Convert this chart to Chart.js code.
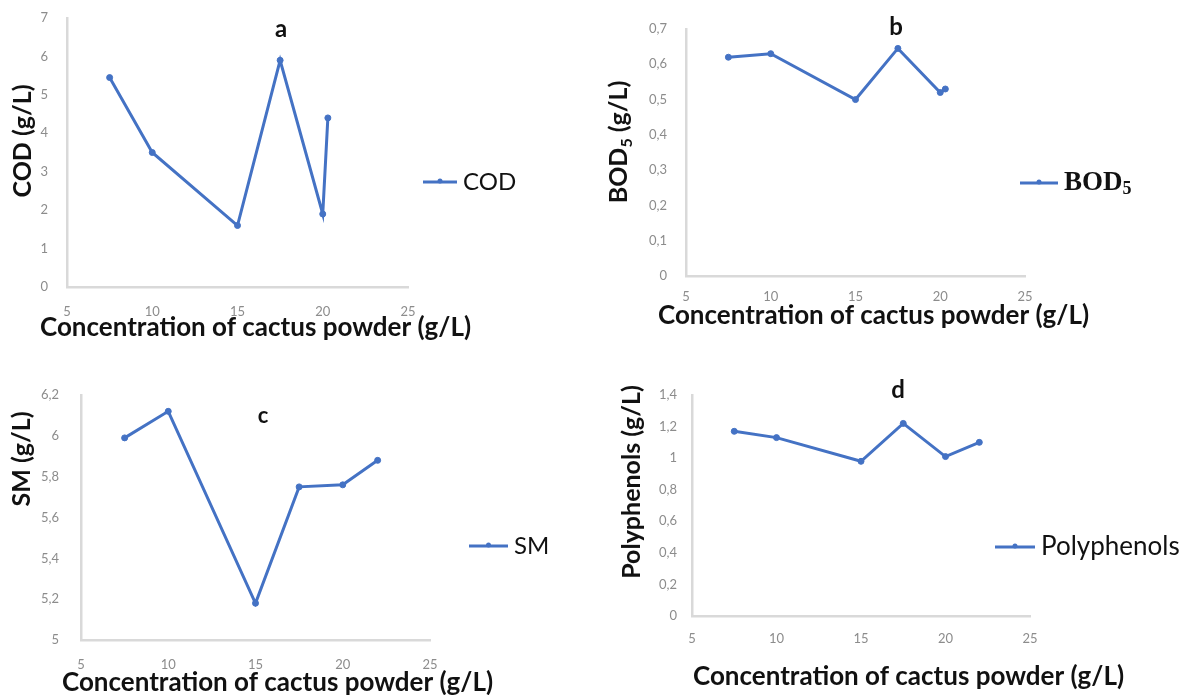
<!DOCTYPE html>
<html>
<head>
<meta charset="utf-8">
<script src="https://cdn.jsdelivr.net/npm/chart.js@4.4.0/dist/chart.umd.min.js"></script>
<style>
    body { margin: 0; background: #fff; width: 1190px; height: 695px; overflow: hidden; position: relative; }
    canvas { position: absolute; left: 0; top: 0; }
</style>
</head>
<body>
<canvas id="chartA" width="1190" height="695"></canvas>
<canvas id="chartB" width="1190" height="695"></canvas>
<canvas id="chartC" width="1190" height="695"></canvas>
<canvas id="chartD" width="1190" height="695"></canvas>
<script>
// Data
const concCOD = [7.5, 10, 15, 17.5, 20, 20.3];
const valCOD = [5.45, 3.5, 1.6, 5.9, 1.9, 4.4];

const concBOD = [7.5, 10, 15, 17.5, 20, 20.3];
const valBOD = [0.62, 0.63, 0.50, 0.645, 0.52, 0.53];

const concSM = [7.5, 10, 15, 17.5, 20, 22];
const valSM = [5.99, 6.12, 5.18, 5.75, 5.76, 5.88];

const concPoly = [7.5, 10, 15, 17.5, 20, 22];
const valPoly = [1.17, 1.13, 0.98, 1.22, 1.01, 1.10];

const xTickValues = [5, 10, 15, 20, 25];
const xTitle = 'Concentration of cactus powder (g/L)';

const BLUE = '#4472C4';
const AXIS_GREY = '#d9d9d9';
const TICK_GREY = '#8c8c8c';
const FONT = 'Lato, "Open Sans", sans-serif';

// comma decimals like the original
function commaLabel(v) {
    const r = Math.round(v * 10) / 10;
    return Number.isInteger(r) ? String(r) : r.toFixed(1).replace('.', ',');
}

// Draws axis titles, panel letter and the little legend
const annotations = {
    id: 'annotations',
    afterDraw(chart) {
        const a = chart.options.plugins.annotations;
        const ctx = chart.ctx;
        ctx.save();
        ctx.fillStyle = '#111';
        ctx.textBaseline = 'middle';

        // x title
        ctx.font = `bold ${a.xTitleSize}px ${FONT}`;
        ctx.textAlign = 'left';
        ctx.fillText(xTitle, a.xTitle[0], a.xTitle[1]);

        // y title (rotated)
        ctx.save();
        ctx.translate(a.yTitle[0], a.yTitle[1]);
        ctx.rotate(-Math.PI / 2);
        ctx.font = `bold ${a.yTitleSize}px ${FONT}`;
        ctx.textAlign = 'center';
        if (a.ySub) {
            // BOD with subscript 5
            const main = 'BOD', sub = '5', rest = ' (g/L)';
            const wMain = ctx.measureText(main).width;
            const wRest = ctx.measureText(rest).width;
            ctx.font = `bold ${Math.round(a.yTitleSize * 0.62)}px ${FONT}`;
            const wSub = ctx.measureText(sub).width;
            let x = -(wMain + wSub + wRest) / 2;
            ctx.textAlign = 'left';
            ctx.font = `bold ${a.yTitleSize}px ${FONT}`;
            ctx.fillText(main, x, 0);
            x += wMain;
            ctx.font = `bold ${Math.round(a.yTitleSize * 0.62)}px ${FONT}`;
            ctx.fillText(sub, x, a.yTitleSize * 0.3);
            x += wSub;
            ctx.font = `bold ${a.yTitleSize}px ${FONT}`;
            ctx.fillText(rest, x, 0);
        } else {
            ctx.fillText(a.yText, 0, 0);
        }
        ctx.restore();

        // panel letter
        ctx.font = `bold ${a.letterSize}px ${FONT}`;
        ctx.textAlign = 'center';
        ctx.fillText(a.letter, a.letterPos[0], a.letterPos[1]);

        // legend: line + small marker + label
        const [lx0, lx1, ly] = a.legendLine;
        ctx.strokeStyle = BLUE;
        ctx.lineWidth = 3;
        ctx.beginPath();
        ctx.moveTo(lx0, ly);
        ctx.lineTo(lx1, ly);
        ctx.stroke();
        ctx.fillStyle = BLUE;
        ctx.beginPath();
        ctx.arc((lx0 + lx1) / 2, ly - 1, 2.5, 0, Math.PI * 2);
        ctx.fill();

        ctx.fillStyle = '#111';
        ctx.textAlign = 'left';
        if (a.legendSerif) {
            ctx.font = `bold ${a.legendSize}px "Liberation Serif", serif`;
            ctx.fillText('BOD', lx1 + 6, ly);
            const w = ctx.measureText('BOD').width;
            ctx.font = `bold ${Math.round(a.legendSize * 0.65)}px "Liberation Serif", serif`;
            ctx.fillText('5', lx1 + 6 + w, ly + a.legendSize * 0.25);
        } else {
            ctx.font = `${a.legendSize}px ${FONT}`;
            ctx.fillText(a.legendText, lx1 + 6, ly);
        }
        ctx.restore();
    }
};

// box = [left, top, right, bottom] of the plot area in page pixels
function makePanel(id, xs, ys, yMin, yMax, yStep, box, ann, tickPad) {
    const AXW = 40, AXH = 40;
    const data = xs.map((x, i) => ({ x: x, y: ys[i] }));
    return new Chart(document.getElementById(id), {
        type: 'scatter',
        data: {
            datasets: [{
                data: data,
                showLine: true,
                borderColor: BLUE,
                backgroundColor: BLUE,
                borderWidth: 3,
                pointRadius: 3,
                pointBorderWidth: 1,
                pointHoverRadius: 3,
                tension: 0
            }]
        },
        options: {
            responsive: false,
            animation: false,
            events: [],
            layout: {
                padding: {
                    left: box[0] - AXW,
                    top: box[1],
                    right: 1190 - box[2],
                    bottom: 695 - box[3] - AXH
                }
            },
            plugins: {
                legend: { display: false },
                tooltip: { enabled: false },
                annotations: ann
            },
            scales: {
                x: {
                    type: 'linear',
                    min: 5,
                    max: 25,
                    afterBuildTicks: s => { s.ticks = xTickValues.map(v => ({ value: v })); },
                    afterFit: s => { s.height = AXH; s.paddingLeft = 0; s.paddingRight = 0; },
                    grid: { display: false, drawTicks: false },
                    border: { color: AXIS_GREY, width: 2.5 },
                    ticks: { color: TICK_GREY, font: { family: FONT, size: 13 }, padding: tickPad[0], maxRotation: 0 }
                },
                y: {
                    min: yMin,
                    max: yMax,
                    afterFit: s => { s.width = AXW; s.paddingTop = 0; s.paddingBottom = 0; },
                    grid: { display: false, drawTicks: false },
                    border: { color: AXIS_GREY, width: 2.5 },
                    ticks: {
                        stepSize: yStep,
                        color: TICK_GREY,
                        font: { family: FONT, size: 13 },
                        padding: tickPad[1],
                        callback: v => commaLabel(v)
                    }
                }
            }
        },
        plugins: [annotations]
    });
}

makePanel('chartA', concCOD, valCOD, 0, 7, 1, [67, 18, 408, 287], {
    xTitle: [40, 328], xTitleSize: 26,
    yTitle: [23, 141], yTitleSize: 25, yText: 'COD (g/L)',
    letter: 'a', letterPos: [281, 29], letterSize: 24,
    legendLine: [423, 457, 182], legendText: 'COD', legendSize: 24
}, [17, 19]);

makePanel('chartB', concBOD, valBOD, 0, 0.7, 0.1, [686, 29, 1025, 276], {
    xTitle: [658, 316], xTitleSize: 26,
    yTitle: [619, 142], yTitleSize: 25, ySub: true,
    letter: 'b', letterPos: [896, 27], letterSize: 24,
    legendLine: [1020, 1058, 183], legendSerif: true, legendSize: 27
}, [13, 19]);

makePanel('chartC', concSM, valSM, 5, 6.2, 0.2, [81, 395, 430, 640], {
    xTitle: [62, 683], xTitleSize: 26,
    yTitle: [22, 459], yTitleSize: 25, yText: 'SM (g/L)',
    letter: 'c', letterPos: [263, 416], letterSize: 22,
    legendLine: [469, 508, 546], legendText: 'SM', legendSize: 24
}, [17, 22]);

makePanel('chartD', concPoly, valPoly, 0, 1.4, 0.2, [692, 395, 1030, 616], {
    xTitle: [693, 677], xTitleSize: 26,
    yTitle: [632, 482], yTitleSize: 25, yText: 'Polyphenols (g/L)',
    letter: 'd', letterPos: [898, 390], letterSize: 24,
    legendLine: [995, 1035, 547], legendText: 'Polyphenols', legendSize: 26
}, [15, 15]);
</script>
</body>
</html>
